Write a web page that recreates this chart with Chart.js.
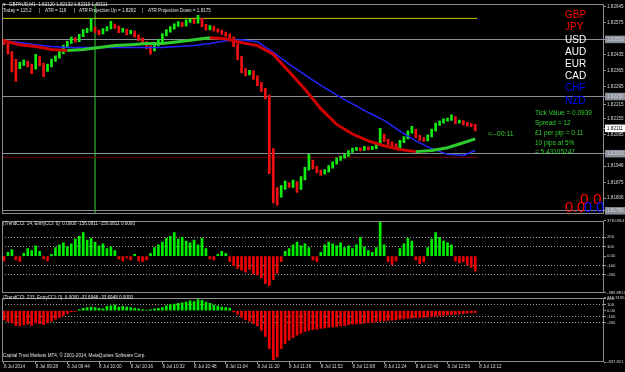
<!DOCTYPE html>
<html>
<head>
<meta charset="utf-8">
<script src="https://cdn.jsdelivr.net/npm/chart.js@4.4.1/dist/chart.umd.min.js"></script>
<style>
  html, body { margin: 0; padding: 0; background: #000; }
  #wrap { position: relative; width: 625px; height: 372px; background: #000; overflow: hidden;
          font-family: "Liberation Sans", Arial, sans-serif; }
  #wrap canvas { position: absolute; left: 0; }
  .t { position: absolute; white-space: nowrap; line-height: 1; }
  .hd { color: #e0e0e0; font-size: 4.6px; }
  .cur { font-size: 10px; }
  .info { color: #32cd32; font-size: 6.5px; }
</style>
</head>
<body>
<div id="wrap">
  <canvas id="mainChart" width="625" height="218" style="top:0"></canvas>
  <canvas id="cciFast" width="625" height="79" style="top:217px"></canvas>
  <canvas id="cciSlow" width="625" height="78" style="top:294px"></canvas>

  <!-- header -->
  <div class="t hd" style="left:2px;top:2.7px">&#9660;</div>
  <div class="t hd" style="left:9px;top:2.7px">GBPAUD,M1&nbsp; 1.82120 1.82132 1.82110 1.82111</div>
  <div class="t hd" style="left:3px;top:9.4px">Today = 115.2</div>
  <div class="t hd" style="left:39px;top:9.4px">|</div>
  <div class="t hd" style="left:45px;top:9.4px">ATR = 116</div>
  <div class="t hd" style="left:74px;top:9.4px">|</div>
  <div class="t hd" style="left:79px;top:9.4px">ATR Projection Up = 1.8292</div>
  <div class="t hd" style="left:142px;top:9.4px">|</div>
  <div class="t hd" style="left:148px;top:9.4px">ATR Projection Down = 1.8175</div>

  <!-- currency strength list -->
  <div class="t cur" style="left:565px;top:10px;color:#ff0000">GBP</div>
  <div class="t cur" style="left:565px;top:22.3px;color:#ff0000">JPY</div>
  <div class="t cur" style="left:565px;top:34.5px;color:#ffffff">USD</div>
  <div class="t cur" style="left:565px;top:46.7px;color:#ffffff">AUD</div>
  <div class="t cur" style="left:565px;top:58.9px;color:#ffffff">EUR</div>
  <div class="t cur" style="left:565px;top:71.2px;color:#ffffff">CAD</div>
  <div class="t cur" style="left:565px;top:83.4px;color:#0000ff">CHF</div>
  <div class="t cur" style="left:565px;top:95.6px;color:#0000ff">NZD</div>

  <!-- account info -->
  <div class="t info" style="left:535px;top:109.8px">Tick Value = 0.0939</div>
  <div class="t info" style="left:535px;top:119.8px">Spread = 12</div>
  <div class="t info" style="left:535px;top:129.8px">£1 per pip = 0.11</div>
  <div class="t info" style="left:535px;top:139.8px">10 pips at 5%</div>
  <div class="t info" style="left:535px;top:149.3px">= 5.43105247</div>
  <div class="t info" style="left:488px;top:129.5px;font-size:7px">&lt;--00:11</div>

  <div class="t" style="left:580px;top:190.8px;color:#ff0000;font-size:15.5px">0.0</div>
  <div class="t" style="left:565px;top:200px;color:#ff0000;font-size:14.5px">0.0</div>
  <div class="t" style="left:584px;top:200px;color:#0000ff;font-size:14.5px">0.0</div>

  <!-- sub window captions -->
  <div class="t hd" style="left:3px;top:221.7px">(TrendCCI: 14, EntryCCI: 0)&nbsp; 0.0000 -156.0811 -156.0811 0.0000</div>
  <div class="t hd" style="left:3px;top:295.7px">(TrendCCI: 233, EntryCCI: 0)&nbsp; 0.0000 -33.6948 -33.6948 0.0000</div>
  <div class="t hd" style="left:3px;top:353.7px">Capital Trust Markets MT4, © 2001-2014, MetaQuotes Software Corp.</div>
</div>

<script>
// GBPAUD M1, one entry per 2 minutes from 09:12
const firstOpen = 1.82494;
const closes = [
  1.82486, 1.82443, 1.82409, 1.82379, 1.82392, 1.82401, 1.82388, 1.82375, 1.82422, 1.82392,
  1.82367, 1.82384, 1.82409, 1.82422, 1.82443, 1.82469, 1.82486, 1.82503, 1.82494, 1.82516,
  1.82537, 1.82541, 1.82550, 1.82537, 1.82528, 1.82541, 1.82550, 1.82562, 1.82554, 1.82537,
  1.82541, 1.82528, 1.82533, 1.82516, 1.82503, 1.82486, 1.82469, 1.82456, 1.82477, 1.82494,
  1.82520, 1.82537, 1.82550, 1.82562, 1.82571, 1.82562, 1.82579, 1.82584, 1.82575, 1.82588,
  1.82562, 1.82545, 1.82554, 1.82541, 1.82537, 1.82528, 1.82520, 1.82507, 1.82477, 1.82422,
  1.82367, 1.82350, 1.82358, 1.82337, 1.82307, 1.82282, 1.82252, 1.82018, 1.81848, 1.81814,
  1.81848, 1.81869, 1.81856, 1.81873, 1.81848, 1.81890, 1.81933, 1.81967, 1.81941, 1.81924,
  1.81916, 1.81924, 1.81941, 1.81958, 1.81975, 1.81984, 1.81992, 1.82009, 1.82018, 1.82022,
  1.82018, 1.82026, 1.82022, 1.82026, 1.82039, 1.82082, 1.82060, 1.82048, 1.82039, 1.82026,
  1.82052, 1.82069, 1.82094, 1.82103, 1.82077, 1.82065, 1.82060, 1.82077, 1.82103, 1.82128,
  1.82137, 1.82146, 1.82150, 1.82158, 1.82137, 1.82141, 1.82133, 1.82128, 1.82124, 1.82111
];
const highs = [
  1.82500, 1.82490, 1.82447, 1.82413, 1.82400, 1.82410, 1.82405, 1.82392, 1.82435, 1.82426,
  1.82396, 1.82392, 1.82414, 1.82428, 1.82450, 1.82475, 1.82492, 1.82510, 1.82508, 1.82522,
  1.82543, 1.82548, 1.82592, 1.82554, 1.82541, 1.82547, 1.82556, 1.82579, 1.82567, 1.82558,
  1.82548, 1.82545, 1.82540, 1.82537, 1.82520, 1.82507, 1.82490, 1.82473, 1.82482, 1.82500,
  1.82526, 1.82543, 1.82556, 1.82568, 1.82578, 1.82575, 1.82586, 1.82590, 1.82588, 1.82605,
  1.82592, 1.82566, 1.82560, 1.82558, 1.82546, 1.82541, 1.82532, 1.82524, 1.82511, 1.82481,
  1.82426, 1.82372, 1.82365, 1.82362, 1.82341, 1.82311, 1.82286, 1.82256, 1.82022, 1.81852,
  1.81860, 1.81880, 1.81873, 1.81885, 1.81878, 1.81900, 1.81940, 1.81997, 1.81972, 1.81945,
  1.81928, 1.81930, 1.81948, 1.81964, 1.81982, 1.81990, 1.81998, 1.82014, 1.82024, 1.82028,
  1.82026, 1.82032, 1.82030, 1.82032, 1.82045, 1.82111, 1.82086, 1.82064, 1.82052, 1.82043,
  1.82058, 1.82075, 1.82100, 1.82120, 1.82107, 1.82081, 1.82070, 1.82082, 1.82108, 1.82134,
  1.82143, 1.82152, 1.82156, 1.82170, 1.82162, 1.82147, 1.82145, 1.82137, 1.82132, 1.82128
];
const lows = [
  1.82478, 1.82435, 1.82358, 1.82316, 1.82372, 1.82386, 1.82380, 1.82350, 1.82370, 1.82384,
  1.82337, 1.82360, 1.82380, 1.82404, 1.82418, 1.82438, 1.82465, 1.82482, 1.82488, 1.82490,
  1.82512, 1.82530, 1.82536, 1.82530, 1.82520, 1.82524, 1.82537, 1.82546, 1.82548, 1.82530,
  1.82532, 1.82520, 1.82524, 1.82510, 1.82495, 1.82478, 1.82460, 1.82435, 1.82450, 1.82472,
  1.82490, 1.82515, 1.82532, 1.82545, 1.82557, 1.82556, 1.82558, 1.82574, 1.82570, 1.82571,
  1.82556, 1.82540, 1.82541, 1.82536, 1.82532, 1.82522, 1.82514, 1.82500, 1.82468, 1.82410,
  1.82355, 1.82340, 1.82345, 1.82325, 1.82298, 1.82272, 1.82240, 1.81912, 1.81784, 1.81775,
  1.81810, 1.81844, 1.81852, 1.81852, 1.81830, 1.81844, 1.81885, 1.81928, 1.81933, 1.81916,
  1.81905, 1.81910, 1.81920, 1.81937, 1.81954, 1.81970, 1.81980, 1.81988, 1.82005, 1.82014,
  1.82012, 1.82014, 1.82016, 1.82018, 1.82022, 1.82035, 1.82052, 1.82040, 1.82026, 1.82018,
  1.82022, 1.82048, 1.82065, 1.82090, 1.82070, 1.82058, 1.82054, 1.82056, 1.82073, 1.82099,
  1.82124, 1.82133, 1.82142, 1.82146, 1.82130, 1.82133, 1.82126, 1.82120, 1.82118, 1.82100
];

// moving averages, read every 4th bar
const maBars = [0, 4, 8, 12, 16, 20, 24, 28, 32, 36, 40, 44, 48, 52, 56, 60, 64, 68, 72, 76, 80,
                84, 88, 92, 96, 100, 104, 108, 112, 116, 119];
const maFast = [1.82494, 1.82477, 1.82469, 1.82456, 1.82452, 1.82456, 1.82465, 1.82473, 1.82477, 1.82482,
                1.82482, 1.82490, 1.82499, 1.82507, 1.82503, 1.82486, 1.82473, 1.82435, 1.82358, 1.82282,
                1.82197, 1.82128, 1.82086, 1.82056, 1.82035, 1.82018, 1.82009, 1.82014, 1.82026, 1.82048, 1.82065];
const maSlow = [1.82494, 1.82486, 1.82477, 1.82469, 1.82465, 1.82465, 1.82465, 1.82465, 1.82465, 1.82465,
                1.82465, 1.82469, 1.82473, 1.82482, 1.82494, 1.82499, 1.82490, 1.82443, 1.82392, 1.82345,
                1.82299, 1.82256, 1.82218, 1.82180, 1.82146, 1.82099, 1.82056, 1.82022, 1.81997, 1.81992, 1.82014];

const cci14 = [
  -50, 40, 70, -40, -60, 30, 80, 60, 110, 50,
  -30, -50, 20, 90, 120, 140, 100, 130, 180, 210,
  250, 170, 190, 150, 110, 130, 80, 100, 60, -30,
  -50, -20, -40, 20, -50, -60, -40, 30, 90, 120,
  150, 190, 210, 250, 180, 200, 160, 140, 170, 120,
  190, 80, -30, -40, 20, 50, 30, -60, -100, -130,
  -150, -170, -140, -190, -200, -230, -290, -310, -250, -180,
  -60, 50, 80, 120, 150, 110, 130, 90, -40, -60,
  40, 120, 150, 130, 110, 140, 90, 110, 80, 120,
  200, 100, 60, 40, 90, 370, 120, -60, -90, -50,
  80, 130, 190, 160, -40, -80, -60, 90, 180, 250,
  200, 160, 140, 120, -50, -70, -60, -90, -120, -156
];
const cci233 = [
  -150, -180, -200, -240, -250, -230, -220, -240, -200, -210,
  -230, -200, -170, -140, -110, -80, -50, -20, -10, 20,
  40, 50, 60, 50, 40, 30, 70, 80, 90, 60,
  70, 60, 50, 40, 30, 20, 10, 20, 30, 40,
  50, 80, 100, 110, 120, 130, 140, 160, 150, 180,
  170, 140, 120, 90, 80, 60, 50, 40, -20, -60,
  -110, -150, -170, -210, -250, -320, -420, -620, -800, -760,
  -620, -540, -480, -440, -400, -370, -340, -320, -310, -300,
  -290, -280, -270, -265, -260, -250, -240, -230, -220, -215,
  -210, -200, -195, -190, -180, -170, -165, -160, -155, -150,
  -140, -135, -125, -120, -115, -110, -105, -100, -95, -88,
  -82, -76, -70, -64, -58, -52, -47, -42, -38, -34
];

const priceTicks = [1.82645, 1.82575, 1.82500, 1.82435, 1.82365, 1.82295, 1.82250, 1.82215,
                    1.82155, 1.82111, 1.82085, 1.82000, 1.81946, 1.81875, 1.81806, 1.81750];
const roundLevels = [1.82500, 1.82250, 1.82000, 1.81750];
const dayHigh = 1.82592;   // yellow line
const dayLevel = 1.81984;  // dark red line
const markerBar = 23;      // vertical line
const cci14Ticks = [378.0914, 200, 100, 0, -100, -200, -385.8813];
const cci14Labels = ["378.0914", "200", "100", "0.00", "-100", "-200", "-385.8813"];
const cci233Ticks = [215.3195, 200, 100, 0, -100, -200, -837.821];
const cci233Labels = ["215.3195", "200", "100", "0.00", "-100", "-200", "-837.821"];
const cciLevels = [200, 100, -100, -200];
const timeLabels = ["8 Jul 2014", "8 Jul 09:28", "8 Jul 09:44", "8 Jul 10:00", "8 Jul 10:16", "8 Jul 10:32",
                    "8 Jul 10:48", "8 Jul 11:04", "8 Jul 11:20", "8 Jul 11:36", "8 Jul 11:52", "8 Jul 12:08",
                    "8 Jul 12:24", "8 Jul 12:40", "8 Jul 12:56", "8 Jul 13:12"];

const PRICE_MIN = 1.81735, PRICE_MAX = 1.82656;
const X_MIN = -0.5, X_MAX = -0.5 + 602 / 3.96;
const lastBar = closes.length - 1;
const lastPrice = closes[lastBar];

const GREEN = "#12ee12", RED = "#f01010";
const near = (a, b) => Math.abs(a - b) < 1e-7;

Chart.defaults.font.family = '"Liberation Sans", Arial, sans-serif';

// gray frame around each plot area
const frame = {
  id: "frame",
  afterDraw(chart) {
    const { ctx, chartArea: a } = chart;
    ctx.save();
    ctx.strokeStyle = "#8c8c8c";
    ctx.lineWidth = 1;
    ctx.strokeRect(Math.round(a.left) + 0.5, Math.round(a.top) + 0.5,
                   Math.round(a.right - a.left) - 1, Math.round(a.bottom - a.top) - 1);
    ctx.restore();
  }
};

const xHidden = { type: "linear", min: X_MIN, max: X_MAX, offset: false, display: false, grid: { offset: false } };
const common = {
  responsive: false,
  devicePixelRatio: 1,
  animation: false,
  events: [],
  plugins: { legend: { display: false }, tooltip: { enabled: false } }
};

// ---------- main price window ----------
new Chart(document.getElementById("mainChart"), {
  type: "bar",
  data: {
    datasets: [
      {
        type: "line",
        data: maBars.map((b, i) => ({ x: b, y: maFast[i] })),
        borderWidth: 3,
        pointRadius: 0,
        segment: { borderColor: c => c.p1.parsed.y >= c.p0.parsed.y ? "#2fcc2f" : "#d00000" },
        order: 1
      },
      {
        type: "line",
        data: maBars.map((b, i) => ({ x: b, y: maSlow[i] })),
        borderColor: "#2424ff",
        borderWidth: 1.5,
        pointRadius: 0,
        order: 2
      },
      {
        data: closes.map((c, i) => ({ x: i, y: [lows[i], highs[i]] })),
        backgroundColor: closes.map((c, i) => c >= (i ? closes[i - 1] : firstOpen) ? GREEN : RED),
        barThickness: 2,
        grouped: false,
        order: 3
      },
      {
        type: "line",
        data: [{ x: X_MIN, y: dayHigh }, { x: lastBar + 0.5, y: dayHigh }],
        borderColor: "#c8c800", borderWidth: 1, pointRadius: 0, order: 4
      },
      {
        type: "line",
        data: [{ x: X_MIN, y: dayLevel }, { x: lastBar + 0.5, y: dayLevel }],
        borderColor: "#7a0000", borderWidth: 1, pointRadius: 0, order: 5
      },
      {
        type: "line",
        data: [{ x: markerBar, y: PRICE_MIN }, { x: markerBar, y: PRICE_MAX }],
        borderColor: "#3ad03a", borderWidth: 1, pointRadius: 0, order: 6
      }
    ]
  },
  options: {
    ...common,
    layout: { padding: { left: 2, top: 0, right: 0, bottom: 1.5 } },
    scales: {
      x: xHidden,
      y: {
        position: "right",
        min: PRICE_MIN,
        max: PRICE_MAX,
        afterFit(s) { s.width = 21; },
        afterBuildTicks(s) { s.ticks = priceTicks.map(v => ({ value: v })); },
        border: { display: false },
        grid: {
          color: c => roundLevels.some(r => near(r, c.tick.value)) ? "#8a9099" : "transparent",
          tickLength: 2,
          tickColor: "#9a9a9a"
        },
        ticks: {
          autoSkip: false,
          padding: 1,
          font: { size: 4.6 },
          color: c => near(c.tick.value, lastPrice) ? "#000" : "#d8d8d8",
          showLabelBackdrop: c => near(c.tick.value, lastPrice) || roundLevels.some(r => near(r, c.tick.value)),
          backdropColor: c => near(c.tick.value, lastPrice) ? "#ffffff" : "#8a9099",
          backdropPadding: { left: 2, right: 3, top: 1, bottom: 1 },
          callback: v => v.toFixed(5)
        }
      }
    }
  },
  plugins: [frame]
});

// ---------- indicator windows ----------
function cciChart(id, values, ticks, labels, lo, hi, padding, showTime) {
  const x = showTime ? {
    type: "linear", min: X_MIN, max: X_MAX, offset: false, position: "bottom",
    afterFit(s) { s.height = 10; },
    afterBuildTicks(s) { s.ticks = timeLabels.map((t, k) => ({ value: k * 8 })); },
    border: { display: false },
    grid: { drawOnChartArea: false, offset: false, tickLength: 2, tickColor: "#9a9a9a" },
    ticks: {
      autoSkip: false, maxRotation: 0, minRotation: 0, align: "start", padding: 0,
      font: { size: 4.6 }, color: "#d8d8d8",
      callback: (v, i) => timeLabels[i]
    }
  } : xHidden;

  return new Chart(document.getElementById(id), {
    type: "bar",
    data: {
      datasets: [{
        data: values.map((v, i) => ({ x: i, y: v })),
        backgroundColor: values.map(v => v >= 0 ? "#00ee00" : "#ee0000"),
        barThickness: 2
      }]
    },
    options: {
      ...common,
      layout: { padding: padding },
      scales: {
        x: x,
        y: {
          position: "right",
          min: lo,
          max: hi,
          afterFit(s) { s.width = 21; },
          afterBuildTicks(s) { s.ticks = ticks.map(v => ({ value: v })); },
          border: { display: false, dash: [1, 2] },
          grid: {
            color: c => cciLevels.includes(c.tick.value) ? "#9a9a9a" : "transparent",
            tickLength: 2,
            tickColor: "#9a9a9a"
          },
          ticks: {
            autoSkip: false, padding: 1,
            font: { size: 4.2 }, color: "#d8d8d8",
            callback: (v, i) => labels[i]
          }
        }
      }
    },
    plugins: [frame]
  });
}

cciChart("cciFast", cci14, cci14Ticks, cci14Labels, -385.8813, 378.0914,
         { left: 2, top: 2.6, right: 0, bottom: 2 }, false);
cciChart("cciSlow", cci233, cci233Ticks, cci233Labels, -837.821, 215.3195,
         { left: 2, top: 2, right: 0, bottom: 0 }, true);
</script>
</body>
</html>
